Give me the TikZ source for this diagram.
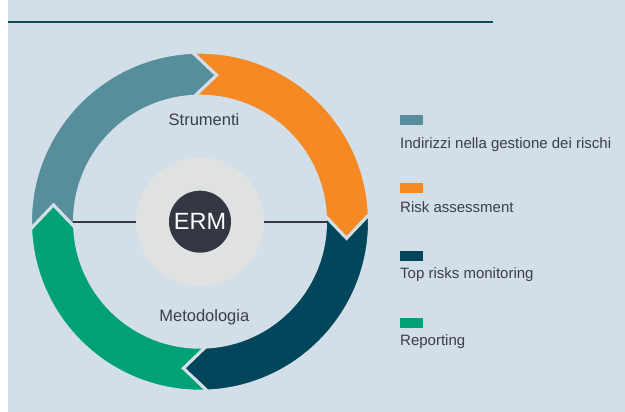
\documentclass[tikz,border=0pt]{standalone}
\usepackage{fontspec}
\setmainfont{Liberation Sans}
\usetikzlibrary{positioning,calc}

\definecolor{bgblue}{HTML}{D2DFE8}
\definecolor{rulecol}{HTML}{0D4A5C}
\definecolor{segteal}{HTML}{568E9B}
\definecolor{segorange}{HTML}{F58A24}
\definecolor{segdark}{HTML}{01465A}
\definecolor{seggreen}{HTML}{00A174}
\definecolor{hubgray}{HTML}{DFE2E1}
\definecolor{ermdark}{HTML}{343642}
\definecolor{txtgray}{HTML}{3C3E48}

\begin{document}
\begin{tikzpicture}[
  x=1pt, y=1pt,
  every node/.style={font=\fontsize{15}{18}\selectfont, text=txtgray, inner sep=0pt},
  ringlbl/.style={font=\fontsize{16.5}{19}\selectfont},
  legsq/.style={minimum width=22.7pt, minimum height=10pt, anchor=north west},
  legtxt/.style={anchor=base west},
  seg/.style={draw=bgblue, line width=3pt, line join=miter}
]
\useasboundingbox (-200,-190.3) rectangle (425,221.7);

% Fond
\fill[bgblue] (-192,-190.3) rectangle (425,221.7);
\coordinate (ruleL) at (-192,199.7);
\coordinate (ruleR) at (293,199.7);
\draw[rulecol, line width=1.4pt] (ruleL) -- (ruleR);

% Anneau (4 fleches)
\foreach \e/\col in {92.5/segteal, 2.5/segorange, -87.5/segdark, -177.5/seggreen}{
  \pgfmathsetmacro{\s}{\e+90}
  \fill[\col, seg] (\s:169.5) arc[start angle=\s, end angle=\e, radius=169.5]
    -- (\e-9:147.5) -- (\e:125.5)
    arc[start angle=\e, end angle=\s, radius=125.5]
    -- (\s-9:147.5) -- cycle;
}

% Centre
\node[circle, fill=hubgray, minimum size=128pt] (hub) at (0,0) {};
\node[circle, fill=ermdark, minimum size=62pt, text=white,
      font=\fontsize{23.5}{26}\selectfont] (erm) at (hub) {ERM};
\coordinate (linL) at (-127,0);
\coordinate (linR) at (127,0);
\draw[ermdark, line width=2pt] (linL) -- (hub.west);
\draw[ermdark, line width=2pt] (hub.east) -- (linR);

\node[ringlbl] (strum) at (4,102.4) {Strumenti};
\node[ringlbl] (metod) at (4.3,-95.6) {Metodologia};

% Legenda
\node[legsq, fill=segteal]   (sq1) at (200,106.7) {};
\node[legtxt] (lg1) at (200,73.4) {Indirizzi nella gestione dei rischi};
\node[legsq, fill=segorange] (sq2) at (200,38.4) {};
\node[legtxt] (lg2) at (200,9) {Risk assessment};
\node[legsq, fill=segdark]   (sq3) at (200,-29) {};
\node[legtxt] (lg3) at (200,-56.6) {Top risks monitoring};
\node[legsq, fill=seggreen]  (sq4) at (200,-96.6) {};
\node[legtxt] (lg4) at (200,-124) {Reporting};

\end{tikzpicture}
\end{document}
